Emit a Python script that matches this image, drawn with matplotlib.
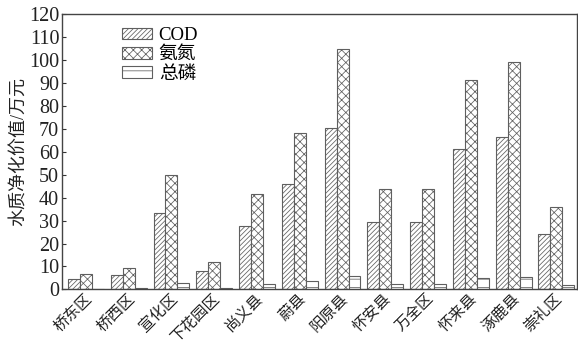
import numpy as np
import matplotlib
matplotlib.use("Agg")
import matplotlib.pyplot as plt
from matplotlib.patches import Patch
from matplotlib.transforms import ScaledTranslation

# 各区县水质净化价值（万元）
regions = ["桥东区", "桥西区", "宣化区", "下花园区", "尚义县", "蔚县",
           "阳原县", "怀安县", "万全区", "怀来县", "涿鹿县", "崇礼区"]
cod = [4.5, 6.3, 33.2, 8.0, 27.8, 45.8, 70.6, 29.3, 29.3, 61.4, 66.5, 24.1]
ammonia = [6.6, 9.5, 49.7, 12.1, 41.5, 68.2, 105.0, 43.6, 44.0, 91.6, 99.1, 35.9]
phosphorus = [0.3, 0.5, 2.6, 0.5, 2.2, 3.6, 5.7, 2.2, 2.3, 4.9, 5.4, 1.8]
series_names = ["COD", "氨氮", "总磷"]
yticks = list(range(0, 121, 10))

plt.rcParams["font.family"] = ["Liberation Serif", "Noto Sans CJK SC"]
plt.rcParams["hatch.linewidth"] = 0.55

fig = plt.figure(figsize=(5.78, 3.45), dpi=100)
ax = fig.add_axes([0.1073, 0.1614, 0.8907, 0.7966])

x = np.arange(len(regions))
w = 0.28
edge = "#5f5f5f"
hatches = ["///////", "xxxx", "--"]
for i, (vals, h) in enumerate(zip([cod, ammonia, phosphorus], hatches)):
    ax.bar(x + (i - 1) * w, vals, width=w, facecolor="white",
           edgecolor=edge, linewidth=0.8, hatch=h, label=series_names[i])

ax.set_xlim(-0.56, 11.48)
ax.set_ylim(0, 120)
ax.set_yticks(yticks)
ax.set_yticklabels([str(t) for t in yticks], fontsize=14.5)
ax.tick_params(axis="y", direction="in", length=3, width=0.8, pad=2, colors="#333333")
ax.tick_params(axis="y", labelcolor="#222222")
ax.set_xticks(x)
ax.set_xticklabels(regions, rotation=45, ha="right", rotation_mode="anchor",
                   fontsize=11.2, color="#222222")
ax.tick_params(axis="x", length=0, pad=1)
shift = ScaledTranslation(-2 / 100, 0, fig.dpi_scale_trans)
for lbl in ax.get_xticklabels():
    lbl.set_transform(lbl.get_transform() + shift)
for s in ax.spines.values():
    s.set_color("#444444")
    s.set_linewidth(1.0)

ax.set_ylabel("水质净化价值/万元", fontsize=13, color="#222222", labelpad=1)

handles = [Patch(facecolor="white", edgecolor=edge, hatch=h, linewidth=0.8)
           for h in hatches]
ax.legend(handles, series_names, loc="upper left", bbox_to_anchor=(0.095, 0.995),
          frameon=False, fontsize=13.5, handlelength=1.6, handleheight=0.6,
          handletextpad=0.35, labelspacing=0.12, borderaxespad=0.2)

fig.savefig("out.png", dpi=100)
